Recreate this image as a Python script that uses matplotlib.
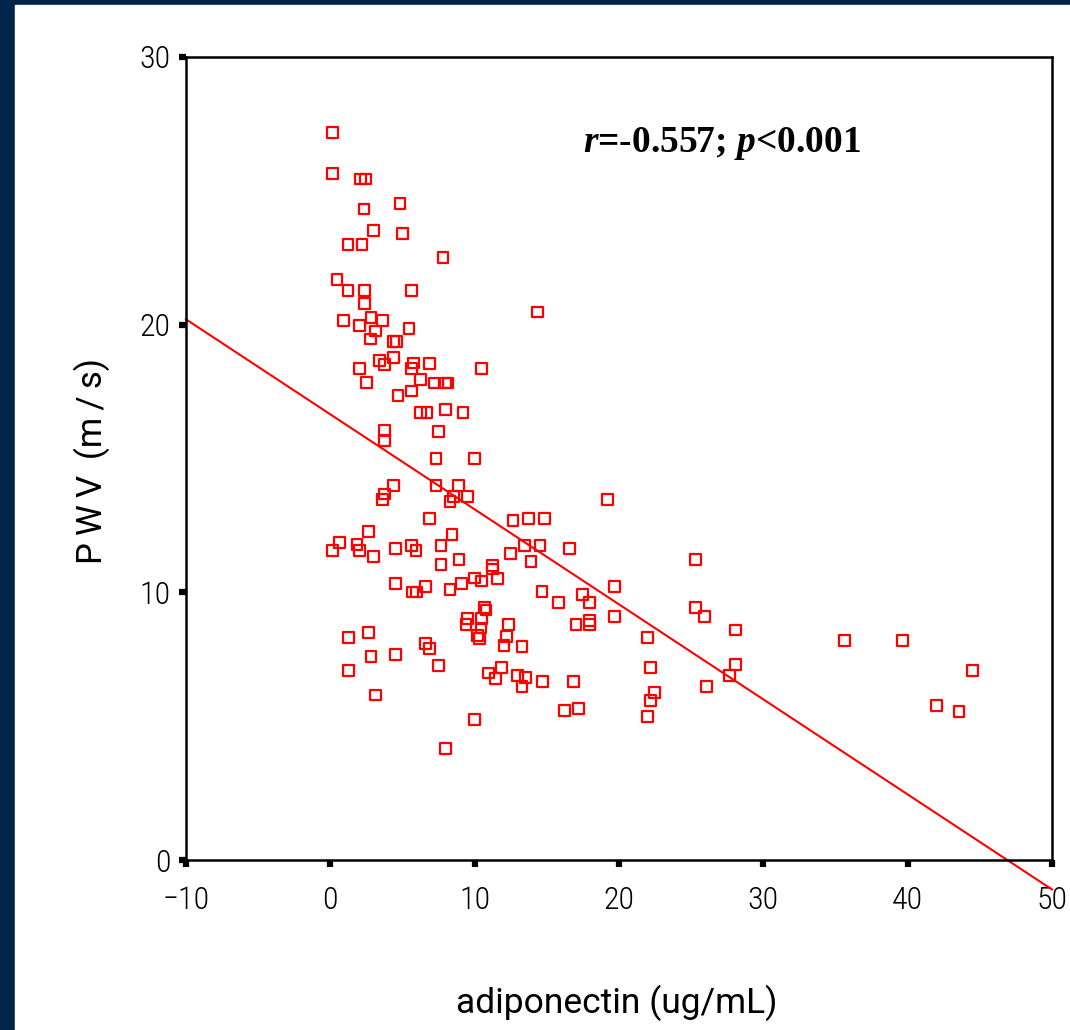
import matplotlib
matplotlib.use("Agg")
import matplotlib.pyplot as plt
from matplotlib.patches import Rectangle
from matplotlib import font_manager

# adiponectin (ug/mL) / PWV (m/s)
adiponectin = [
    0.14, 0.14, 2.10, 2.42, 4.83, 2.33, 2.98, 5.01, 1.23, 2.20,
    7.80, 0.46, 1.23, 2.35, 5.63, 2.35, 14.36, 0.92, 2.82, 3.60,
    2.03, 3.12, 5.45, 2.79, 4.36, 4.59, 3.41, 3.74, 4.38, 2.03,
    5.77, 5.63, 6.86, 2.49, 6.23, 7.18, 7.96, 8.15, 10.46, 4.69,
    5.63, 6.23, 6.70, 7.96, 9.19, 3.74, 3.74, 7.50, 7.32, 9.99,
    4.36, 3.74, 3.62, 7.32, 8.89, 8.54, 8.29, 9.51, 19.20, 6.86,
    12.65, 13.73, 14.82, 2.65, 0.62, 0.16, 1.85, 2.01, 2.98, 4.52,
    5.63, 5.93, 7.67, 8.43, 13.43, 14.52, 16.55, 12.49, 13.90, 7.67,
    8.91, 25.28, 11.24, 11.24, 9.99, 10.48, 11.57, 14.66, 4.52, 5.68,
    5.96, 6.58, 8.29, 9.07, 19.67, 17.47, 17.94, 15.79, 25.28, 25.90,
    19.67, 10.66, 10.78, 9.51, 9.40, 10.48, 10.44, 10.20, 10.32, 12.33,
    12.21, 12.03, 13.28, 17.02, 17.94, 17.94, 22.00, 28.05, 1.25, 2.65,
    6.58, 6.86, 2.82, 4.52, 7.50, 1.25, 10.96, 11.86, 11.43, 12.97,
    13.50, 13.28, 14.70, 16.85, 22.16, 22.46, 22.16, 22.00, 26.06, 27.63,
    28.05, 3.12, 16.23, 17.17, 9.99, 7.96, 35.60, 39.63, 44.51, 41.99,
    43.56,
]
pwv = [
    27.17, 25.65, 25.44, 25.44, 24.52, 24.32, 23.53, 23.42, 23.00, 23.00,
    22.51, 21.70, 21.27, 21.28, 21.28, 20.79, 20.47, 20.16, 20.28, 20.16,
    19.97, 19.76, 19.87, 19.46, 19.37, 19.37, 18.66, 18.52, 18.76, 18.35,
    18.57, 18.35, 18.55, 17.85, 17.95, 17.82, 17.82, 17.82, 18.35, 17.34,
    17.52, 16.72, 16.72, 16.83, 16.72, 16.06, 15.68, 16.01, 15.00, 15.00,
    13.98, 13.67, 13.48, 13.98, 14.00, 13.57, 13.38, 13.57, 13.47, 12.76,
    12.67, 12.76, 12.76, 12.26, 11.86, 11.55, 11.80, 11.55, 11.35, 11.65,
    11.76, 11.55, 11.75, 12.16, 11.75, 11.75, 11.65, 11.45, 11.14, 11.03,
    11.24, 11.24, 10.99, 10.87, 10.54, 10.42, 10.52, 10.02, 10.33, 10.01,
    10.01, 10.23, 10.11, 10.33, 10.23, 9.93, 9.61, 9.61, 9.42, 9.11,
    9.11, 9.44, 9.34, 9.03, 8.81, 9.03, 8.67, 8.40, 8.28, 8.80,
    8.36, 8.00, 7.99, 8.81, 8.96, 8.81, 8.30, 8.59, 8.30, 8.50,
    8.09, 7.91, 7.59, 7.69, 7.28, 7.09, 6.99, 7.18, 6.78, 6.88,
    6.82, 6.47, 6.68, 6.68, 7.18, 6.27, 5.97, 5.37, 6.47, 6.88,
    7.31, 6.16, 5.58, 5.65, 5.25, 4.16, 8.20, 8.20, 7.08, 5.76,
    5.56,
]

# fitted line
intercept = 16.65
slope = -0.355
fit_x = [-10, 50]

x_ticks = [-10, 0, 10, 20, 30, 40, 50]
y_ticks = [0, 10, 20, 30]

W, H = 1070, 1030
navy = "#00244a"

# pick a narrow sans if one is there
installed = {f.name for f in font_manager.fontManager.ttflist}
label_font = [f for f in ["Liberation Sans Narrow", "DejaVu Sans Condensed",
                          "Roboto Condensed", "Open Sans Condensed"]
              if f in installed] + ["DejaVu Sans"]
wide_font = ["Roboto", "DejaVu Sans"]

fig = plt.figure(figsize=(W / 100, H / 100), dpi=100, facecolor=navy)
# white slide panel
fig.patches.append(Rectangle((15 / W, 0), 1 - 15 / W, 1 - 5 / H,
                             transform=fig.transFigure, color="white",
                             zorder=-10))

ax = fig.add_axes([186 / W, (H - 860) / H, (1052 - 186) / W, (860 - 57) / H])
ax.set_facecolor("white")

ax.scatter(adiponectin, pwv, s=60, marker="s", facecolors="none",
           edgecolors="#ff0000", linewidths=1.6, zorder=3)
ax.plot(fit_x, [intercept + slope * v for v in fit_x], color="#ff0000",
        lw=1.5, clip_on=False, zorder=2)

ax.set_xlim(-10, 50)
ax.set_ylim(0, 30)
ax.set_xticks(x_ticks)
ax.set_yticks(y_ticks)
ax.set_xticklabels([str(v).replace("-", "\u2212") for v in x_ticks])

for s in ax.spines.values():
    s.set_linewidth(1.8)
ax.tick_params(direction="out", length=5, width=4.5, color="black",
               labelsize=23, pad=14)
ax.tick_params(axis="y", pad=6)
for lab in ax.get_xticklabels() + ax.get_yticklabels():
    lab.set_family(label_font)
    lab.set_fontweight("light")

fig.text(92 / W, 1 - 461 / H, "P\u2009W\u2009V\u2009 (m\u2009/\u2009s)",
         rotation=90, ha="center", va="center", fontsize=25, family=wide_font)
fig.text(617 / W, 1 - 1003 / H, "adiponectin (ug/mL)", ha="center",
         va="center", fontsize=25.5, family=wide_font)

plt.rcParams["mathtext.fontset"] = "custom"
plt.rcParams["mathtext.it"] = "Liberation Serif:italic:bold"
plt.rcParams["mathtext.rm"] = "Liberation Serif:bold"
ax.text((583 - 186) / 866, 1 - (143 - 57) / 803,
        r"$r$=-0.557; $p$<0.001", transform=ax.transAxes, ha="left",
        va="center", fontsize=27, fontweight="bold", family="Liberation Serif")

fig.savefig("out.png", dpi=100, facecolor=navy)
